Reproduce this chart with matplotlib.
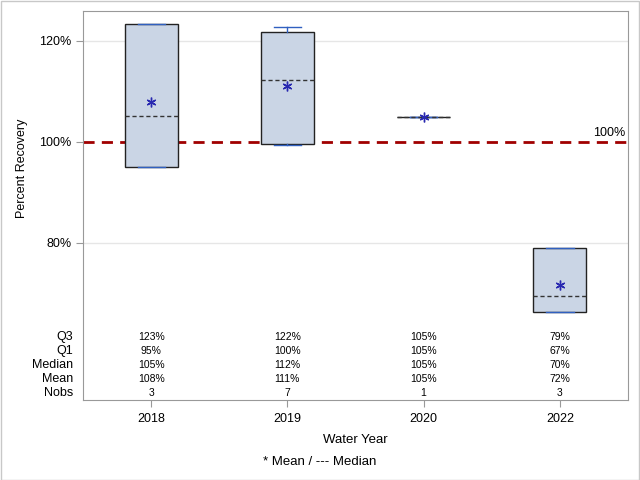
import matplotlib
matplotlib.use("Agg")
import matplotlib.pyplot as plt
from matplotlib.transforms import blended_transform_factory

plt.rcParams["font.family"] = ["Liberation Sans", "DejaVu Sans"]

# data
years = ["2018", "2019", "2020", "2022"]
q1 = [95.0, 99.6, 104.9, 66.3]
q3 = [123.3, 121.7, 104.9, 79.0]
medians = [105.1, 112.2, 104.9, 69.4]
means = [107.8, 111.0, 104.9, 71.7]
whislo = [95.0, 99.4, 104.9, 66.3]
whishi = [123.3, 122.8, 104.9, 79.0]
nobs = [3, 7, 1, 3]

q3_lbl = ["123%", "122%", "105%", "79%"]
q1_lbl = ["95%", "100%", "105%", "67%"]
med_lbl = ["105%", "112%", "105%", "70%"]
mean_lbl = ["108%", "111%", "105%", "72%"]

fig = plt.figure(figsize=(6.4, 4.8), dpi=100)
fig.patches.append(plt.Rectangle((0.001, 0.001), 0.997, 0.997, transform=fig.transFigure,
                                 fill=False, edgecolor="#c8c8c8", linewidth=1))
ax = fig.add_axes([83 / 640, 1 - 400 / 480, 545 / 640, 389 / 480])

stats = []
for i in range(len(years)):
    stats.append({"q1": q1[i], "q3": q3[i], "med": medians[i], "mean": means[i],
                  "whislo": whislo[i], "whishi": whishi[i], "fliers": []})

ax.axhline(100, color="#a00000", linestyle=(0, (4, 2.6)), linewidth=2, zorder=1)
ax.text(0.995, 100.6, "100%", transform=blended_transform_factory(ax.transAxes, ax.transData),
        ha="right", va="bottom", fontsize=9)

ax.bxp(stats, positions=range(len(years)), widths=0.39, patch_artist=True, showmeans=True,
       boxprops=dict(facecolor="#cad5e5", edgecolor="#222222", linewidth=1),
       whiskerprops=dict(color="#3060c0", linewidth=1),
       capprops=dict(color="#3060c0", linewidth=1),
       capwidths=0.2,
       medianprops=dict(color="#333333", linestyle=(0, (3, 2)), linewidth=1),
       meanprops=dict(marker=(6, 2, 0), markeredgecolor="#2828b0", markerfacecolor="#2828b0",
                      markersize=7, markeredgewidth=1),
       zorder=3)

ax.set_xlim(-0.5, 3.5)
ax.set_ylim(48.9, 125.9)
ax.set_yticks([80, 100, 120])
ax.set_yticklabels(["80%", "100%", "120%"])
ax.set_xticks(range(len(years)))
ax.set_xticklabels(years)
for y in [80, 120]:
    ax.axhline(y, color="#e6e6e6", linewidth=1, zorder=0)

ax.tick_params(axis="y", length=5, color="#999999", labelsize=9)
ax.tick_params(axis="x", length=5, color="#999999", labelsize=9, pad=4)
for s in ax.spines.values():
    s.set_color("#999999")

# stats table inside the frame
tr = blended_transform_factory(ax.transData, fig.transFigure)
rows = [("Q3", q3_lbl), ("Q1", q1_lbl), ("Median", med_lbl), ("Mean", mean_lbl),
        ("Nobs", [str(n) for n in nobs])]
for r, (name, vals) in enumerate(rows):
    yf = 1 - (337 + 14 * r) / 480
    fig.text(73 / 640, yf, name, ha="right", va="center", fontsize=9)
    for i, v in enumerate(vals):
        ax.text(i, yf, v, transform=tr, ha="center", va="center", fontsize=7.5)

ax.set_ylabel("Percent Recovery", fontsize=9)
ax.yaxis.set_label_coords(-0.1, 0.596)
ax.set_xlabel("Water Year", fontsize=9.5, labelpad=7)
fig.text(0.5, 1 - 462 / 480, "* Mean / --- Median", ha="center", va="center", fontsize=9.5)

fig.savefig("out.png", dpi=100)
